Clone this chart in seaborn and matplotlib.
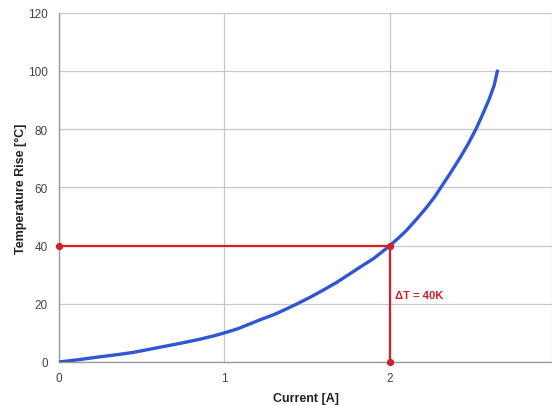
import matplotlib
matplotlib.use("Agg")
import matplotlib.pyplot as plt
import pandas as pd
import seaborn as sns

# Curve
current = [0.0, 0.12, 0.25, 0.35, 0.45, 0.55, 0.65, 0.75, 0.85, 0.93, 1.0, 1.08, 1.15,
           1.22, 1.3, 1.37, 1.44, 1.52, 1.6, 1.68, 1.75, 1.82, 1.9, 1.95, 2.0, 2.05,
           2.1, 2.16, 2.22, 2.27, 2.32, 2.37, 2.42, 2.47, 2.52, 2.56, 2.6, 2.63, 2.65]
temp_rise = [0.0, 0.8, 1.8, 2.5, 3.3, 4.4, 5.5, 6.6, 7.8, 8.9, 10.0, 11.4, 13.0,
             14.6, 16.3, 18.1, 20.0, 22.3, 24.8, 27.4, 30.0, 32.6, 35.5, 37.7, 40.0, 42.5,
             45.2, 49.0, 53.0, 56.7, 61.0, 65.3, 69.8, 74.6, 80.0, 85.0, 90.3, 95.0, 100.0]

# Operating point marker
op_current = 2.0
op_rise = 40.0
op_label = "ΔT = 40K"

x_ticks = [0, 1, 2]
y_ticks = [0, 20, 40, 60, 80, 100, 120]

df = pd.DataFrame({"Current [A]": current, "Temperature Rise [°C]": temp_rise})

sns.set_style("whitegrid")
plt.rcParams["font.family"] = ["Liberation Sans", "DejaVu Sans"]

fig = plt.figure(figsize=(5.52, 4.06), dpi=100)
ax = fig.add_axes([0.107, 0.106, 0.893, 0.86])

sns.lineplot(data=df, x="Current [A]", y="Temperature Rise [°C]", ax=ax,
             color="#3056d3", linewidth=2.4, zorder=3)

red = "#d0202a"
ax.plot([0, op_current], [op_rise, op_rise], color=red, linewidth=1.6, zorder=4)
ax.plot([op_current, op_current], [0, op_rise], color=red, linewidth=1.6, zorder=4)
ax.scatter([0, op_current, op_current], [op_rise, op_rise, 0], color=red, s=18, zorder=5,
           clip_on=False)
ax.text(op_current + 0.03, 23, op_label, color=red, fontsize=8, fontweight="bold",
        va="center", ha="left")

ax.set_xlim(0, 2.98)
ax.set_ylim(0, 120)
ax.set_xticks(x_ticks)
ax.set_yticks(y_ticks)
# grid line at 3 sits on the right edge in the reference
ax.axvline(2.98, color="#c8c8c8", linewidth=0.9)

ax.grid(True, color="#c8c8c8", linewidth=0.9)
for side in ["top", "right"]:
    ax.spines[side].set_visible(False)
for side in ["left", "bottom"]:
    ax.spines[side].set_color("#9a9a9a")
    ax.spines[side].set_linewidth(1.0)

ax.tick_params(axis="y", length=4, color="#9a9a9a", labelsize=8.5, labelcolor="#444444", pad=4)
ax.tick_params(axis="x", length=0, labelsize=8.5, labelcolor="#444444", pad=7)

ax.set_xlabel("Current [A]", fontsize=9, fontweight="bold", color="#222222", labelpad=6)
ax.set_ylabel("Temperature Rise [°C]", fontsize=9, fontweight="bold", color="#222222", labelpad=1)

fig.savefig("out.png", dpi=100)
